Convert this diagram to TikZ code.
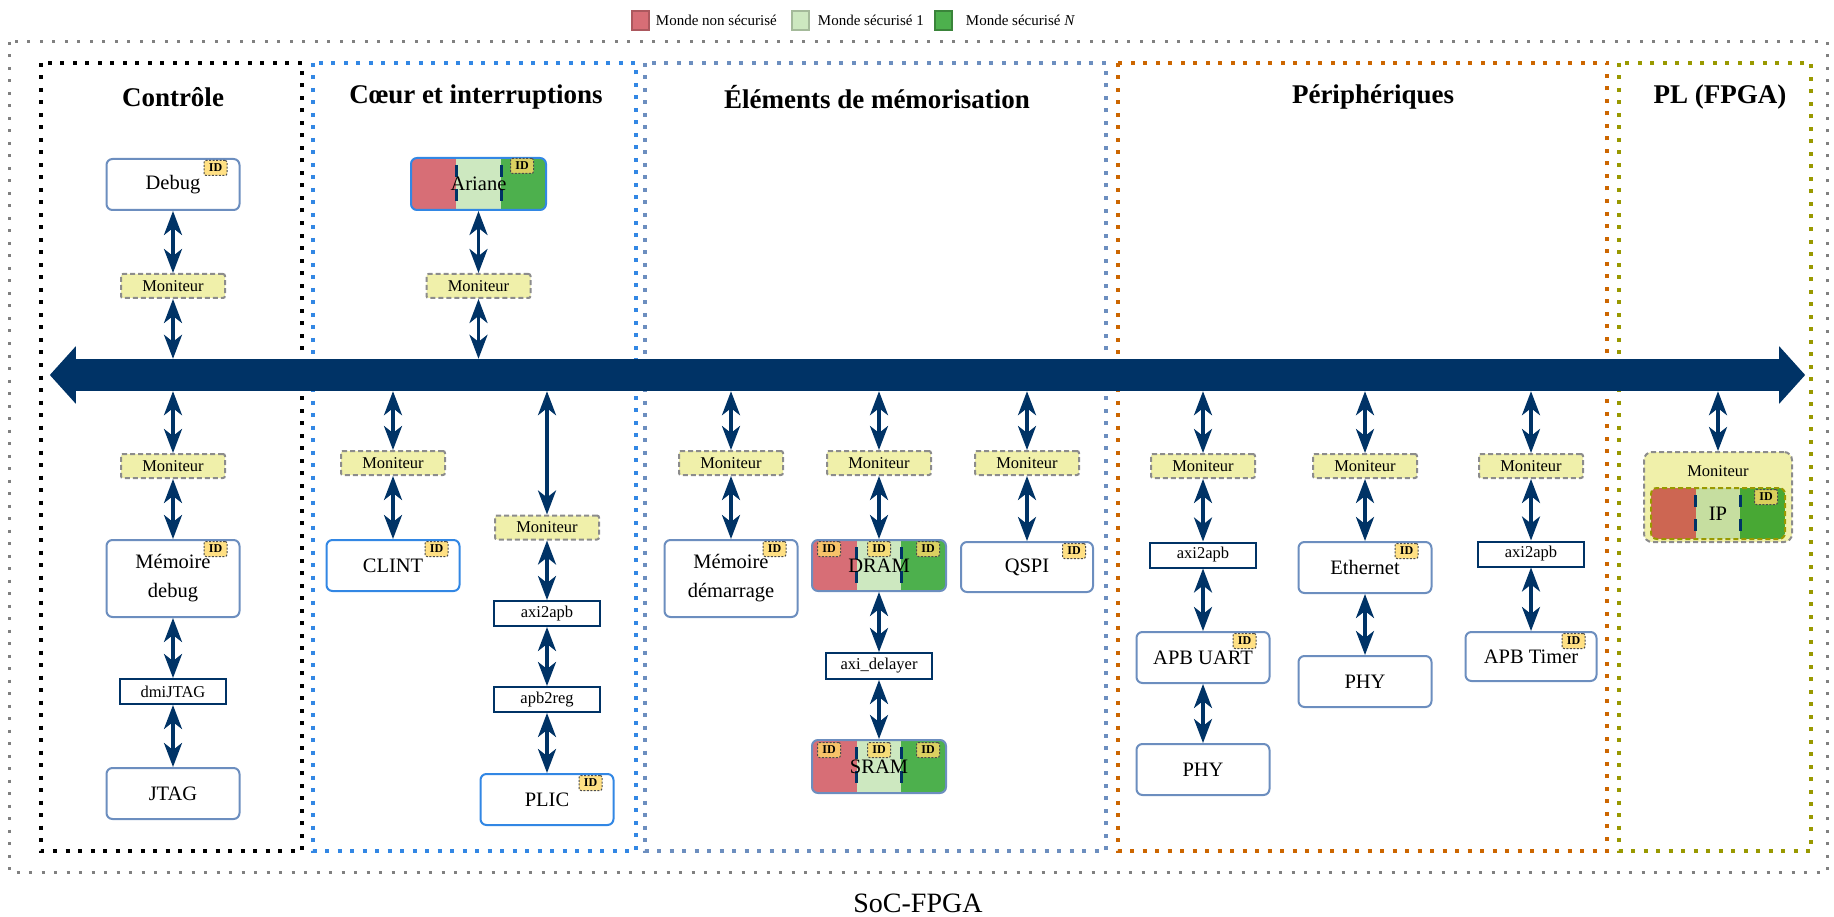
\documentclass[tikz,border=0pt]{standalone}
\usepackage{fontspec}
\setmainfont{Liberation Serif}
\usepackage{tikz}
\usetikzlibrary{arrows.meta,positioning,calc}
\definecolor{navy}{RGB}{0,51,102}
\definecolor{steel}{RGB}{108,142,191}
\definecolor{azure}{RGB}{50,135,228}
\definecolor{rust}{RGB}{204,102,0}
\definecolor{olive}{RGB}{153,153,0}
\definecolor{nonsec}{RGB}{215,110,118}
\definecolor{secone}{RGB}{205,232,192}
\definecolor{secn}{RGB}{77,176,77}
\definecolor{plnonsec}{RGB}{205,102,82}
\definecolor{plsecone}{RGB}{198,222,160}
\definecolor{plsecn}{RGB}{72,168,52}
\definecolor{monfill}{RGB}{240,240,170}
\definecolor{idfill}{RGB}{255,217,102}

\tikzset{
  block/.style={draw=steel,line width=2pt,rounded corners=6pt,fill=white,
    minimum width=133pt,minimum height=51pt,inner sep=2pt,align=center,
    font=\fontsize{20.5}{29}\selectfont},
  coreblock/.style={block,draw=azure},
  monitor/.style={draw=black!45,fill=monfill,line width=2pt,dash pattern=on 5pt off 3pt,
    rounded corners=2pt,minimum width=104pt,minimum height=24pt,inner sep=0pt,
    font=\fontsize{16.5}{18}\selectfont},
  bridge/.style={draw=navy,line width=2pt,fill=white,minimum width=106pt,
    minimum height=25pt,inner sep=0pt,font=\fontsize{16.5}{18}\selectfont},
  idtag/.style={draw=black!70,line width=1pt,dash pattern=on 2pt off 1.5pt,
    rounded corners=2pt,fill=idfill,fill opacity=0.8,text opacity=1,
    minimum width=23pt,minimum height=15pt,inner sep=0pt,
    font=\bfseries\fontsize{12}{12}\selectfont},
  seam/.style={draw=navy,line width=3pt,dash pattern=on 12pt off 12pt,
    shorten <=7pt,shorten >=7pt},
  worlds/.style n args={3}{block,draw=azure,
    path picture={
      \path (path picture bounding box.south west) coordinate (sw)
            (path picture bounding box.north east) coordinate (ne);
      \fill[#1,sharp corners] (sw) rectangle (ne);
      \fill[#2,sharp corners] ($(sw)!1/3!(sw-|ne)$) rectangle (ne);
      \fill[#3,sharp corners] ($(sw)!2/3!(sw-|ne)$) rectangle (ne);
      \draw[seam,sharp corners] ($(sw|-ne)!1/3!(ne)$) -- ($(sw)!1/3!(sw-|ne)$);
      \draw[seam,sharp corners] ($(sw|-ne)!2/3!(ne)$) -- ($(sw)!2/3!(sw-|ne)$);
    }},
  link/.style={draw=navy,line width=3.5pt,
    {Stealth[length=24pt,width=18pt,inset=7pt]}-{Stealth[length=24pt,width=18pt,inset=7pt]}},
  busline/.style={draw=navy,line width=32pt,
    {Triangle[length=26pt,width=56pt]}-{Triangle[length=26pt,width=56pt]}},
  frame/.style={line width=4pt,dash pattern=on 4pt off 8.5pt},
  title/.style={font=\bfseries\fontsize{27}{30}\selectfont},
  legbox/.style={line width=1.5pt,minimum width=17pt,minimum height=19pt,inner sep=0pt},
  legtext/.style={inner sep=0pt,font=\fontsize{15}{18}\selectfont},
}

\begin{document}
\begin{tikzpicture}[x=1pt,y=-1pt]
\useasboundingbox (0,0) rectangle (1834,917);

% legend
\node[legbox,fill=nonsec,draw=nonsec!80!black] (keyns) at (640.5,20.5) {};
\node[legtext,right=6pt of keyns] (keynslbl) {Monde non sécurisé};
\node[legbox,fill=secone,draw=secone!80!black] (keysone) at (800.5,20.5) {};
\node[legtext,right=8pt of keysone] (keysonelbl) {Monde sécurisé 1};
\node[legbox,fill=secn,draw=secn!75!black] (keysn) at (943.5,20.5) {};
\node[legtext,right=13pt of keysn] (keysnlbl) {Monde sécurisé \textit{N}};

% SoC and its areas
\draw[frame,black!50,line width=3pt,dash pattern=on 3pt off 9.5pt] (9,42) rectangle (1827,872);
\node[font=\fontsize{28}{30}\selectfont] (soc) at (918,903) {SoC-FPGA};
\draw[frame,black] (41,63) rectangle (302,851);
\draw[frame,azure] (313,63) rectangle (636,851);
\draw[frame,steel] (645,63) rectangle (1106,851);
\draw[frame,rust] (1118,63) rectangle (1607,851);
\draw[frame,olive] (1619,63) rectangle (1811,851);
\node[title] (ctrltitle) at (173,97) {Contrôle};
\node[title] (coretitle) at (476,97) {Cœur et interruptions};
\node[title] (memtitle) at (877,97) {Éléments de mémorisation};
\node[title] (periphtitle) at (1373,97) {Périphériques};
\node[title] (pltitle) at (1720,97) {PL (FPGA)};

% bus
\node[minimum width=1755pt,minimum height=32pt,inner sep=0pt] (bus) at (927.5,375) {};
\draw[busline] (bus.west) -- (bus.east);

% control
\node[block] (debug) at (173,184.5) {Debug};
\node[monitor] (debugmon) at (173,286) {Moniteur};
\node[monitor] (dbgmemmon) at (173,466) {Moniteur};
\node[block,minimum height=77pt] (dbgmem) at (173,578.5) {Mémoire\\debug};
\node[bridge] (dmi) at (173,691.5) {dmiJTAG};
\node[block] (jtag) at (173,793.5) {JTAG};
\node[idtag,anchor=north east] (debugid) at ([xshift=-13pt,yshift=-2pt]debug.north east) {ID};
\node[idtag,anchor=north east] (dbgmemid) at ([xshift=-13pt,yshift=-2pt]dbgmem.north east) {ID};
\draw[link] (debug) -- (debugmon);
\draw[link] (debugmon) -- (debugmon |- bus.north);
\draw[link] (dbgmemmon |- bus.south) -- (dbgmemmon);
\draw[link] (dbgmemmon) -- (dbgmem);
\draw[link] (dbgmem) -- (dmi);
\draw[link] (dmi) -- (jtag);

% core and interrupts
\node[worlds={nonsec}{secone}{secn},minimum width=135pt,minimum height=52pt] (ariane) at (478.5,184) {Ariane};
\node[idtag,anchor=north east] (arianeid) at ([xshift=-13pt,yshift=-1pt]ariane.north east) {ID};
\node[monitor] (arianemon) at (478.5,286) {Moniteur};
\node[monitor] (clintmon) at (393,463) {Moniteur};
\node[coreblock] (clint) at (393,565.5) {CLINT};
\node[idtag,anchor=north east] (clintid) at ([xshift=-12pt,yshift=-2pt]clint.north east) {ID};
\node[monitor] (plicmon) at (547,527.5) {Moniteur};
\node[bridge] (plicaxi) at (547,613.5) {axi2apb};
\node[bridge] (plicreg) at (547,699.5) {apb2reg};
\node[coreblock] (plic) at (547,799.5) {PLIC};
\node[idtag,anchor=north east] (plicid) at ([xshift=-12pt,yshift=-2pt]plic.north east) {ID};
\draw[link] (ariane) -- (arianemon);
\draw[link] (arianemon) -- (arianemon |- bus.north);
\draw[link] (clintmon |- bus.south) -- (clintmon);
\draw[link] (clintmon) -- (clint);
\draw[link] (plicmon |- bus.south) -- (plicmon);
\draw[link] (plicmon) -- (plicaxi);
\draw[link] (plicaxi) -- (plicreg);
\draw[link] (plicreg) -- (plic);

% memories
\node[monitor] (bootmon) at (731,463) {Moniteur};
\node[block,minimum height=77pt] (boot) at (731,578.5) {Mémoire\\démarrage};
\node[idtag,anchor=north east] (bootid) at ([xshift=-12pt,yshift=-2pt]boot.north east) {ID};
\node[monitor] (drammon) at (879,463) {Moniteur};
\node[worlds={nonsec}{secone}{secn},draw=steel,minimum width=134pt] (dram) at (879,565.5) {DRAM};
\node[bridge,minimum height=26pt] (delayer) at (879,666) {axi\_delayer};
\node[worlds={nonsec}{secone}{secn},draw=steel,minimum width=134pt,minimum height=53pt] (sram) at (879,766.5) {SRAM};
\foreach \dx/\sfx in {-50/a,0/b,49/c} {
  \node[idtag,anchor=north] (dramid\sfx) at ([xshift=\dx pt,yshift=-2pt]dram.north) {ID};
  \node[idtag,anchor=north] (sramid\sfx) at ([xshift=\dx pt,yshift=-3pt]sram.north) {ID};
}
\node[monitor] (qspimon) at (1027,463) {Moniteur};
\node[block,minimum width=132pt,minimum height=50pt] (qspi) at (1027,567) {QSPI};
\node[idtag,anchor=north east] (qspiid) at ([xshift=-8pt,yshift=-2pt]qspi.north east) {ID};
\draw[link] (bootmon |- bus.south) -- (bootmon);
\draw[link] (bootmon) -- (boot);
\draw[link] (drammon |- bus.south) -- (drammon);
\draw[link] (drammon) -- (dram);
\draw[link] (dram) -- (delayer);
\draw[link] (delayer) -- (sram);
\draw[link] (qspimon |- bus.south) -- (qspimon);
\draw[link] (qspimon) -- (qspi);

% peripherals
\node[monitor] (uartmon) at (1203,466) {Moniteur};
\node[bridge] (uartaxi) at (1203,555) {axi2apb};
\node[block] (uart) at (1203,657.5) {APB UART};
\node[idtag,anchor=north east] (uartid) at ([xshift=-14pt,yshift=-2pt]uart.north east) {ID};
\node[block] (uartphy) at (1203,769.5) {PHY};
\node[monitor] (ethmon) at (1365,466) {Moniteur};
\node[block] (eth) at (1365,567.5) {Ethernet};
\node[idtag,anchor=north east] (ethid) at ([xshift=-14pt,yshift=-2pt]eth.north east) {ID};
\node[block] (ethphy) at (1365,681.5) {PHY};
\node[monitor] (timermon) at (1531,466) {Moniteur};
\node[bridge] (timeraxi) at (1531,554) {axi2apb};
\node[block,minimum width=131pt,minimum height=49pt] (timer) at (1531,656.5) {APB Timer};
\node[idtag,anchor=north east] (timerid) at ([xshift=-12pt,yshift=-2pt]timer.north east) {ID};
\draw[link] (uartmon |- bus.south) -- (uartmon);
\draw[link] (uartmon) -- (uartaxi);
\draw[link] (uartaxi) -- (uart);
\draw[link] (uart) -- (uartphy);
\draw[link] (ethmon |- bus.south) -- (ethmon);
\draw[link] (ethmon) -- (eth);
\draw[link] (eth) -- (ethphy);
\draw[link] (timermon |- bus.south) -- (timermon);
\draw[link] (timermon) -- (timeraxi);
\draw[link] (timeraxi) -- (timer);

% programmable logic
\node[monitor,minimum width=148pt,minimum height=90pt,rounded corners=8pt] (plmon) at (1718,497) {};
\node[font=\fontsize{16.5}{18}\selectfont] (plmonlbl) at (1718,471) {Moniteur};
\node[worlds={plnonsec}{plsecone}{plsecn},draw=olive,dash pattern=on 5pt off 3pt,minimum width=134pt] (ip) at (1718,513.5) {IP};
\node[idtag,anchor=north east] (ipid) at ([xshift=-8pt,yshift=-2pt]ip.north east) {ID};
\draw[link] (plmon |- bus.south) -- (plmon);
\end{tikzpicture}
\end{document}
